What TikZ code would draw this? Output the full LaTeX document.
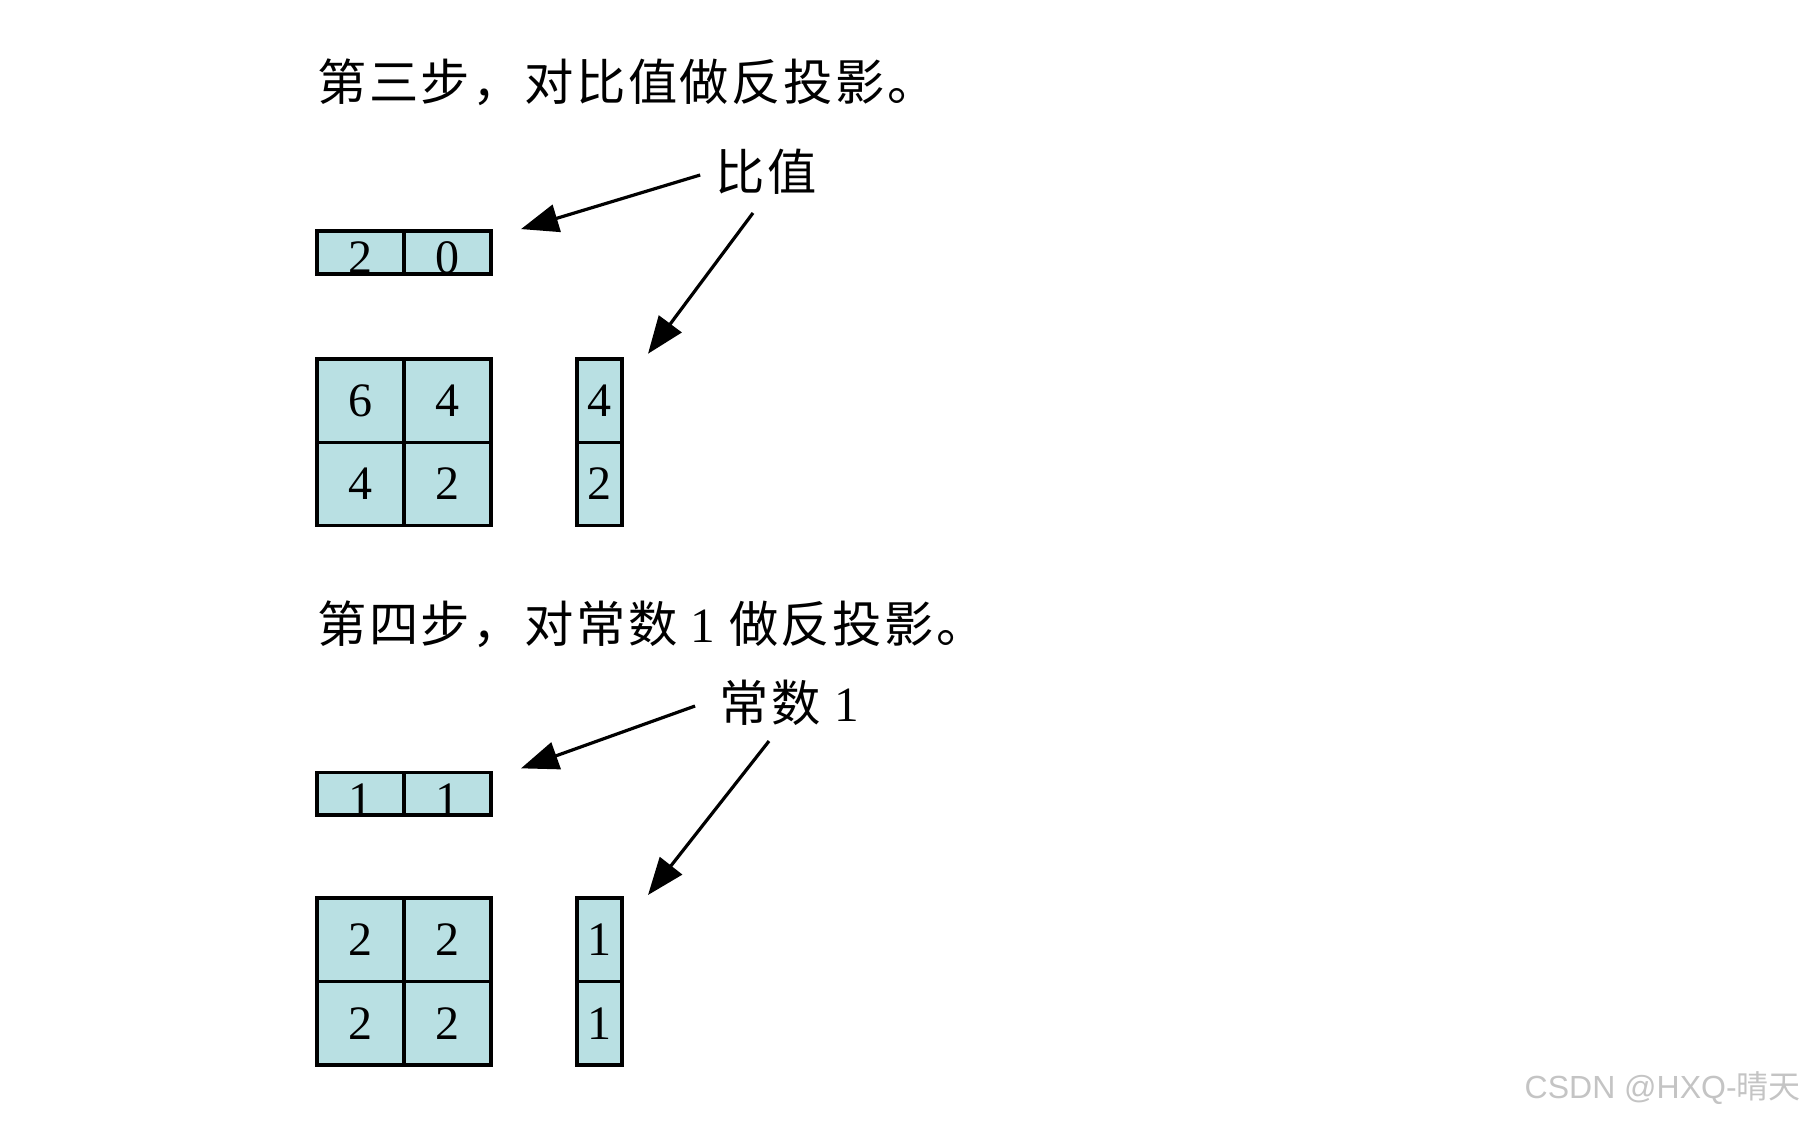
\documentclass[tikz,border=0pt]{standalone}
\usepackage{fontspec}
\setmainfont{Liberation Serif}
\setsansfont{Liberation Sans}
\newfontfamily\cjk[LetterSpace=5]{Noto Sans CJK SC}
\newfontfamily\cjkmark{Noto Sans CJK SC}
\usetikzlibrary{positioning, arrows.meta}
\definecolor{cellcyan}{HTML}{B9E0E3}
\definecolor{markgray}{HTML}{C4C4C4}

\tikzset{
  cell/.style={draw, fill=cellcyan, line width=2.6pt, inner sep=0pt, outer sep=0pt,
               minimum width=65.25pt, minimum height=62.6pt,
               font=\fontsize{36}{36}\selectfont},
  rowcell/.style={cell, minimum height=30.75pt, text height=32pt, text depth=0pt},
  colcell/.style={cell, minimum width=33.75pt},
  steptitle/.style={anchor=west, inner sep=0pt, font=\cjk\fontsize{37}{44}\selectfont},
  tag/.style={inner sep=0pt, font=\cjk\fontsize{37}{44}\selectfont},
  pointer/.style={-{Triangle[length=28pt, width=21pt]}, line width=2.4pt},
}

\begin{document}
\begin{tikzpicture}[x=0.75pt, y=-0.75pt]
  \useasboundingbox (0,0) rectangle (1808,1120);

  % step three: back-projection of the ratios
  \node[steptitle] (title1) at (317,82) {第三步，对比值做反投影。};
  \node[tag] (lab1) at (766,172) {比值};

  \node[cell] (m1a) at (360.5,400.5) {6};
  \node[cell, right=0pt of m1a] (m1b) {4};
  \node[cell, below=0pt of m1a] (m1c) {4};
  \node[cell, below=0pt of m1b] (m1d) {2};

  \node[rowcell, above=63.75pt of m1a] (r1a) {2};
  \node[rowcell, right=0pt of r1a] (r1b) {0};

  \node[colcell, right=64.5pt of m1b] (c1a) {4};
  \node[colcell, below=0pt of c1a] (c1b) {2};

  \coordinate (tip1) at ([shift={(30,-2)}]r1b.north east);
  \coordinate (tip2) at ([shift={(26,-5)}]c1a.north east);
  \draw[pointer] ([shift={(-15,3)}]lab1.west) -- (tip1);
  \draw[pointer] ([shift={(-13,18)}]lab1.south) -- (tip2);

  % step four: back-projection of the constant 1
  \node[steptitle] (title2) at (317,624) {第四步，对常数 {\rmfamily 1} 做反投影。};
  \node[tag] (lab2) at (789,703) {常数 {\rmfamily 1}};

  \node[cell] (m2a) at (360.5,939.75) {2};
  \node[cell, right=0pt of m2a] (m2b) {2};
  \node[cell, below=0pt of m2a] (m2c) {2};
  \node[cell, below=0pt of m2b] (m2d) {2};

  \node[rowcell, above=62.25pt of m2a] (r2a) {1};
  \node[rowcell, right=0pt of r2a] (r2b) {1};

  \node[colcell, right=64.5pt of m2b] (c2a) {1};
  \node[colcell, below=0pt of c2a] (c2b) {1};

  \coordinate (tip3) at ([shift={(30,-4)}]r2b.north east);
  \coordinate (tip4) at ([shift={(26,-3)}]c2a.north east);
  \draw[pointer] ([shift={(-24,3)}]lab2.west) -- (tip3);
  \draw[pointer] ([shift={(-20,15)}]lab2.south) -- (tip4);

  % watermark
  \node[anchor=east, inner sep=0pt, text=markgray, font=\sffamily\fontsize{24}{24}\selectfont]
    (mark) at (1801,1088) {CSDN @HXQ-{\cjkmark 晴天}};
\end{tikzpicture}
\end{document}
